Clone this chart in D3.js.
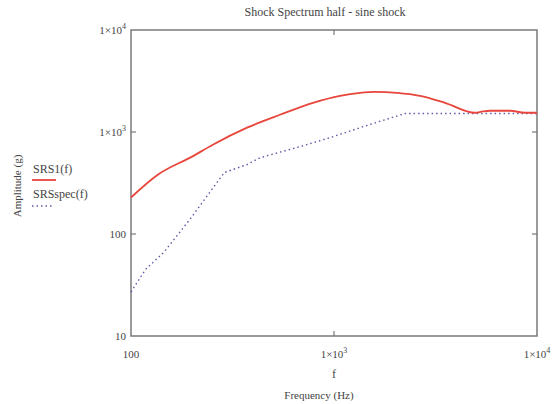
<!DOCTYPE html>
<html lang="en">
<head>
    <title>Shock Spectrum</title>
    <meta charset="utf-8">
    <script src="https://cdnjs.cloudflare.com/ajax/libs/d3/7.8.5/d3.min.js"></script>
    <style>
        body{
            margin: 0;
            background: #ffffff;
        }
        svg text{
            font-family: "Liberation Serif", "Times New Roman", serif;
            fill: #444444;
        }
        path.frame{
            fill: none;
            stroke: #7a7a7a;
            stroke-width: 1.5;
        }
        path.srs1{
            fill: none;
            stroke: #e8463c;
            stroke-width: 1.8;
        }
        path.srsspec{
            fill: none;
            stroke: #5a5aa8;
            stroke-width: 1.4;
            stroke-dasharray: 1.5,3;
        }
    </style>
</head>
<body>
    <svg id="chart" width="555" height="404" font-family="Liberation Serif, serif"></svg>

    <script>
        // values (Hz, g)
        var srs1Freq = [100, 136, 200, 253, 373, 542, 788, 1071, 1343, 1592, 2044, 2653, 3524, 4954, 5400, 5867, 7362, 8730, 10000];
        var srs1Amp  = [228, 383, 574, 751, 1102, 1476, 1933, 2264, 2422, 2477, 2422, 2264, 1934, 1544, 1590, 1616, 1616, 1544, 1544];

        var specFreq = [100, 118, 145, 195, 288, 373, 432, 680, 955, 1343, 1783, 2240, 10000];
        var specAmp  = [27, 45, 66, 139, 400, 480, 560, 718, 880, 1102, 1318, 1520, 1520];

        var xTicks = [100, 1000, 10000];
        var yTicks = [10, 100, 1000, 10000];

        var svg = d3.select("#chart");

        var plotLeft = 131, plotRight = 537, plotTop = 30, plotBottom = 336;

        var x = d3.scaleLog().domain([100, 10000]).range([plotLeft, plotRight]);
        var y = d3.scaleLog().domain([10, 10000]).range([plotBottom, plotTop]);

        // frame
        svg.append("path")
            .attr("class", "frame")
            .attr("d", "M" + plotLeft + "," + plotTop + "H" + plotRight + "V" + plotBottom + "H" + plotLeft + "Z");

        // inner tick marks on all four sides
        var tickLen = 5;
        xTicks.slice(1, -1).forEach(function(t){
            svg.append("line").attr("x1", x(t)).attr("x2", x(t)).attr("y1", plotBottom).attr("y2", plotBottom - tickLen)
                .attr("stroke", "#7a7a7a").attr("stroke-width", 1.2);
            svg.append("line").attr("x1", x(t)).attr("x2", x(t)).attr("y1", plotTop).attr("y2", plotTop + tickLen)
                .attr("stroke", "#7a7a7a").attr("stroke-width", 1.2);
        });
        yTicks.slice(1, -1).forEach(function(t){
            svg.append("line").attr("y1", y(t)).attr("y2", y(t)).attr("x1", plotLeft).attr("x2", plotLeft + tickLen)
                .attr("stroke", "#7a7a7a").attr("stroke-width", 1.2);
            svg.append("line").attr("y1", y(t)).attr("y2", y(t)).attr("x1", plotRight).attr("x2", plotRight - tickLen)
                .attr("stroke", "#7a7a7a").attr("stroke-width", 1.2);
        });

        function tickLabel(sel, v)
        {
            var e = Math.round(Math.log10(v));
            if(e <= 2)
            {
                sel.text(v);
            }
            else
            {
                sel.append("tspan").text("1\u00d710");
                sel.append("tspan").attr("dy", -5).attr("font-size", 8).text(e);
            }
        }

        // y tick labels
        yTicks.forEach(function(t){
            var lab = svg.append("text")
                .attr("x", plotLeft - 5)
                .attr("y", y(t) + 4)
                .attr("text-anchor", "end")
                .attr("font-size", 11);
            tickLabel(lab, t);
        });

        // x tick labels
        xTicks.forEach(function(t){
            var lab = svg.append("text")
                .attr("x", x(t))
                .attr("y", 358)
                .attr("text-anchor", "middle")
                .attr("font-size", 11);
            tickLabel(lab, t);
        });

        // curves
        var line = d3.line()
            .x(function(d){ return x(d[0]); })
            .y(function(d){ return y(d[1]); });

        svg.append("path")
            .attr("class", "srsspec")
            .attr("d", line(d3.zip(specFreq, specAmp)));

        svg.append("path")
            .attr("class", "srs1")
            .attr("d", line.curve(d3.curveMonotoneX)(d3.zip(srs1Freq, srs1Amp)));

        // titles
        svg.append("text")
            .attr("x", 325)
            .attr("y", 16)
            .attr("text-anchor", "middle")
            .attr("font-size", 12)
            .text("Shock Spectrum half - sine shock");

        svg.append("text")
            .attr("x", 334)
            .attr("y", 378)
            .attr("text-anchor", "middle")
            .attr("font-size", 12)
            .text("f");

        svg.append("text")
            .attr("x", 319)
            .attr("y", 399)
            .attr("text-anchor", "middle")
            .attr("font-size", 11)
            .text("Frequency (Hz)");

        svg.append("text")
            .attr("transform", "translate(21,186) rotate(-90)")
            .attr("text-anchor", "middle")
            .attr("font-size", 11)
            .text("Amplitude (g)");

        // legend
        svg.append("text").attr("x", 33).attr("y", 173).attr("font-size", 12).text("SRS1(f)");
        svg.append("line").attr("x1", 32).attr("x2", 56).attr("y1", 180).attr("y2", 180)
            .attr("stroke", "#e8463c").attr("stroke-width", 1.8);

        svg.append("text").attr("x", 33).attr("y", 198).attr("font-size", 12).text("SRSspec(f)");
        svg.append("line").attr("x1", 32).attr("x2", 52).attr("y1", 206).attr("y2", 206)
            .attr("stroke", "#5a5aa8").attr("stroke-width", 1.4).attr("stroke-dasharray", "1.5,3");
    </script>
</body>
</html>
